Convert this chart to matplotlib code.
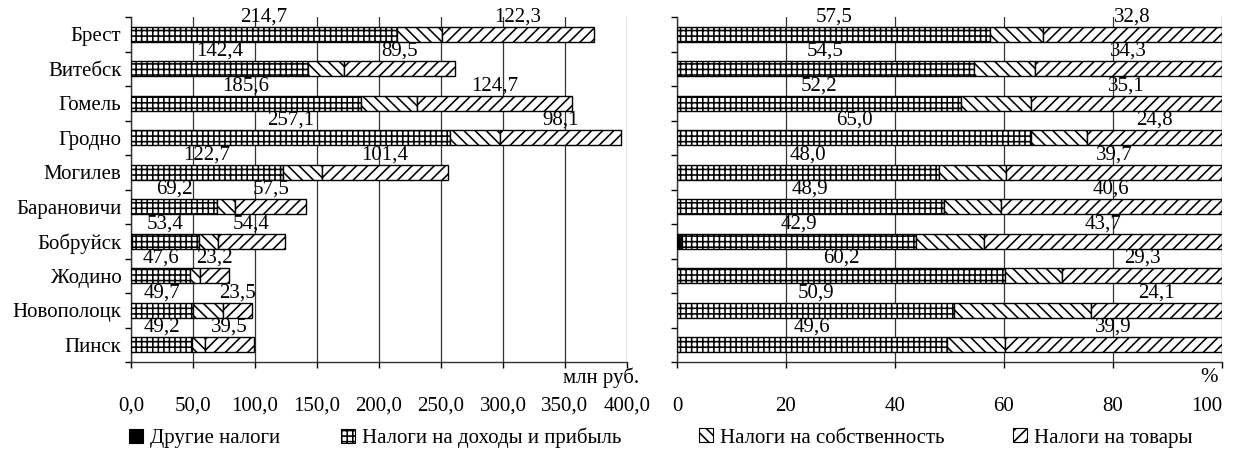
import matplotlib
matplotlib.use("Agg")
import matplotlib.pyplot as plt
import numpy as np
from matplotlib.patches import Patch
from matplotlib.ticker import FixedLocator

plt.rcParams['font.family'] = ['Liberation Serif', 'DejaVu Serif']
plt.rcParams['hatch.linewidth'] = 1.15
plt.rcParams['hatch.color'] = 'black'

# Налоговые поступления по городам
cities = ['Брест', 'Витебск', 'Гомель', 'Гродно', 'Могилев',
          'Барановичи', 'Бобруйск', 'Жодино', 'Новополоцк', 'Пинск']

# млн руб.
other_abs = [0, 0, 0, 0, 0, 0, 1.2, 0, 0, 0]
income_abs = [214.7, 142.4, 185.6, 257.1, 122.7, 69.2, 53.4, 47.6, 49.7, 49.2]
property_abs = [36.2, 29.4, 45.3, 40.3, 31.5, 14.8, 15.4, 8.3, 24.4, 10.5]
goods_abs = [122.3, 89.5, 124.7, 98.1, 101.4, 57.5, 54.4, 23.2, 23.5, 39.5]

# %
other_pct = [0, 0, 0, 0, 0, 0, 1.0, 0, 0, 0]
income_pct = [57.5, 54.5, 52.2, 65.0, 48.0, 48.9, 42.9, 60.2, 50.9, 49.6]
property_pct = [9.7, 11.2, 12.7, 10.2, 12.3, 10.5, 12.4, 10.5, 25.0, 10.5]
goods_pct = [32.8, 34.3, 35.1, 24.8, 39.7, 40.6, 43.7, 29.3, 24.1, 39.9]

left_ticks = [0, 50, 100, 150, 200, 250, 300, 350, 400]
left_ticklabels = ['0,0', '50,0', '100,0', '150,0', '200,0', '250,0', '300,0', '350,0', '400,0']
right_ticks = [0, 20, 40, 60, 80, 100]
right_ticklabels = ['0', '20', '40', '60', '80', '100']

styles = [
    dict(facecolor='black', edgecolor='black', hatch=None),
    dict(facecolor='white', edgecolor='black', hatch='+++'),
    dict(facecolor='white', edgecolor='black', hatch='\\\\\\'),
    dict(facecolor='white', edgecolor='black', hatch='///'),
]
names = ['Другие налоги', 'Налоги на доходы и прибыль',
         'Налоги на собственность', 'Налоги на товары']

fs = 15
fig = plt.figure(figsize=(12.34, 4.54), dpi=100)
ax1 = fig.add_axes([131 / 1234, 1 - 362 / 454, 496 / 1234, 345 / 454])
ax2 = fig.add_axes([677 / 1234, 1 - 362 / 454, 545 / 1234, 345 / 454])

y = np.arange(len(cities))
h = 0.43


def draw(ax, series, labelled, xmax, ticks, ticklabels, unit):
    left = np.zeros(len(cities))
    for vals, st in zip(series, styles):
        vals = np.array(vals, dtype=float)
        ax.barh(y, vals, left=left, height=h, linewidth=1.0, zorder=3, **st)
        left += vals
    # подписи значений над сегментами
    starts = np.cumsum([np.zeros(len(cities))] + [np.array(s) for s in series[:-1]], axis=0)
    for k in labelled:
        for i in range(len(cities)):
            v = series[k][i]
            xc = starts[k][i] + v / 2
            ax.text(xc, y[i] - h / 2 - 0.01, f'{v:.1f}'.replace('.', ','),
                    ha='center', va='bottom', fontsize=fs, zorder=4)
    ax.set_xlim(0, xmax)
    ax.set_ylim(len(cities) - 0.5, -0.5)
    ax.set_xticks(ticks)
    ax.set_xticklabels(ticklabels, fontsize=fs)
    ax.tick_params(axis='x', direction='out', length=4, pad=21, width=1)
    ax.yaxis.set_minor_locator(FixedLocator(np.arange(-0.5, len(cities), 1)))
    ax.tick_params(axis='y', which='minor', direction='out', length=4, width=1)
    ax.tick_params(axis='y', which='major', length=0, pad=7)
    ax.xaxis.grid(True, color='#333333', linewidth=0.9)
    ax.set_axisbelow(True)
    for s in ['top', 'right']:
        ax.spines[s].set_visible(False)
    for s in ['left', 'bottom']:
        ax.spines[s].set_color('#333333')
        ax.spines[s].set_linewidth(1.0)
    ax.text(unit[1], -0.046, unit[0], transform=ax.transAxes,
            ha='right', va='center', fontsize=fs)


draw(ax1, [other_abs, income_abs, property_abs, goods_abs], [1, 3],
     400, left_ticks, left_ticklabels, ('млн руб.', 1.024))
ax1.set_yticks(y)
ax1.set_yticklabels(cities, fontsize=fs)

draw(ax2, [other_pct, income_pct, property_pct, goods_pct], [1, 3],
     100, right_ticks, right_ticklabels, ('%', 0.993))
ax2.set_yticks(y)
ax2.set_yticklabels([])
ax2.get_xticklabels()[-1].set_horizontalalignment('right')

handles = [Patch(linewidth=0.8, **st) for st in styles]
fig.legend(handles[:2], names[:2], loc='center left', bbox_to_anchor=(129 / 1234, 1 - 438 / 454),
           ncol=2, frameon=False, fontsize=fs, handlelength=0.65, handleheight=0.65,
           handletextpad=0.35, columnspacing=2.95, borderpad=0, borderaxespad=0)
fig.legend(handles[2:], names[2:], loc='center left', bbox_to_anchor=(699 / 1234, 1 - 438 / 454),
           ncol=2, frameon=False, fontsize=fs, handlelength=0.65, handleheight=0.65,
           handletextpad=0.35, columnspacing=3.3, borderpad=0, borderaxespad=0)

fig.savefig('out.png', dpi=100)
